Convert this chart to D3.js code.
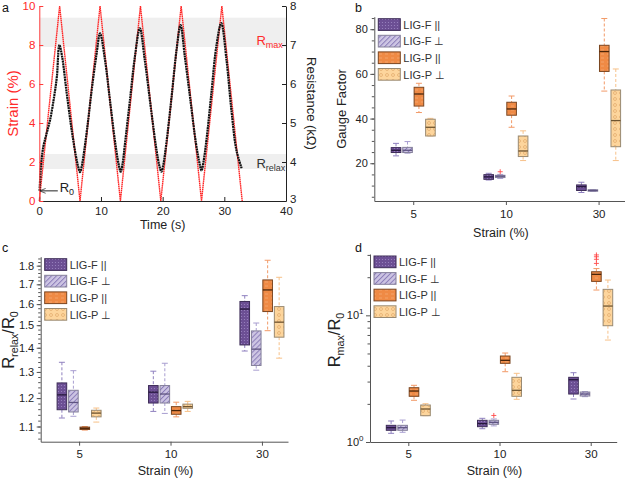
<!DOCTYPE html>
<html><head><meta charset="utf-8">
<script src="https://cdn.jsdelivr.net/npm/d3@7"></script>
<style>
body{margin:0;background:#fff}
svg{display:block}
text{font-family:"Liberation Sans",Arial,Helvetica,sans-serif}
</style>
</head><body>
<svg id="fig" width="625" height="478"></svg>
<script>
// ---------- Panel a data ----------
const strainTime  = [0, 3.3, 6.6, 9.85, 13.15, 16.4, 19.7, 23.0, 26.3, 29.6, 32.9];
const strainValue = [0, 10, 0, 10, 0, 10, 0, 10, 0, 10, 0];
const resTime  = [0.05,0.3,0.65,1.2,1.75,2.4,2.85,3.25,3.7,4.45,5.25,5.95,6.3,6.6,6.9,7.15,7.8,8.5,9.3,9.85,10.65,11.45,12.25,12.85,13.2,13.5,13.9,14.7,15.5,16.3,17.1,18.2,19.0,19.5,19.8,20.1,20.6,21.45,22.25,22.9,23.6,24.5,25.4,26.0,26.3,26.6,27.1,27.9,28.7,29.5,30.35,31.15,31.95,32.8];
const resValue = [3.26,3.95,4.39,4.74,5.08,5.67,6.19,7.0,6.70,5.76,4.82,4.14,3.88,3.74,3.90,4.14,4.91,5.85,6.79,7.30,6.62,5.59,4.56,3.95,3.75,3.95,4.48,5.59,6.70,7.43,6.62,5.25,4.31,3.88,3.75,3.92,4.48,5.67,6.87,7.51,6.70,5.59,4.48,3.95,3.78,3.98,4.56,5.76,6.96,7.56,6.62,5.33,4.31,3.84];
const timeTicks = [0, 10, 20, 30, 40];
const strainTicks = [0, 2, 4, 6, 8, 10];
const resTicks = [3, 4, 5, 6, 7, 8];
const rmaxBand = [7.9, 9.4];     // in strain units
const rrelaxBand = [1.64, 2.41];
const r0Value = 3.26;

// ---------- Box panels data: [lowWhisker, q1, median, q3, highWhisker] per strain ----------
const strainCats = ["5", "10", "30"];
const seriesNames = ["LIG-F ||", "LIG-F \u22A5", "LIG-P ||", "LIG-P \u22A5"];

const gfLigFPar  = [[23.3,24.8,25.8,27.0,28.9],[12.5,12.8,13.9,14.9,15.5],[6.9,7.8,9.5,10.3,11.5]];
const gfLigFPerp = [[24.5,24.8,25.8,27.1,29.7],[13.2,13.6,14.2,14.6,15.0],[7.4,7.5,7.8,8.1,8.2]];
const gfLigPPar  = [[42.7,45.6,51.0,54.0,55.8],[36.1,41.5,44.3,47.3,50.1],[52.3,61.1,70.0,72.8,84.8]];
const gfLigPPerp = [[32.2,32.2,36.1,39.7,40.1],[21.2,23.0,25.5,32.2,34.5],[21.2,27.4,39.1,52.8,62.2]];
const gfOutSeries = [1], gfOutCat = [1], gfOutValue = [16.2];
const gfTicks = [20, 40, 60, 80];

const rrLigFPar  = [[1.129,1.158,1.212,1.257,1.339],[1.152,1.182,1.222,1.247,1.303],[1.386,1.412,1.576,1.613,1.642]];
const rrLigFPerp = [[1.135,1.150,1.184,1.229,1.305],[1.145,1.182,1.215,1.247,1.335],[1.307,1.326,1.394,1.474,1.510]];
const rrLigPPar  = [[1.088,1.090,1.094,1.098,1.100],[1.133,1.142,1.155,1.169,1.185],[1.475,1.564,1.671,1.723,1.830]];
const rrLigPPerp = [[1.115,1.133,1.146,1.156,1.164],[1.152,1.163,1.169,1.178,1.188],[1.356,1.446,1.514,1.588,1.737]];
const rrOutSeries = [], rrOutCat = [], rrOutValue = [];
const rrTicks = [1.1, 1.2, 1.3, 1.4, 1.5, 1.6, 1.7, 1.8];

const rmLigFPar  = [[1.171,1.237,1.297,1.354,1.465],[1.273,1.321,1.395,1.483,1.538],[2.185,2.392,3.103,3.241,3.524]];
const rmLigFPerp = [[1.193,1.237,1.297,1.354,1.49],[1.34,1.379,1.43,1.483,1.52],[2.28,2.307,2.392,2.481,2.50]];
const rmLigPPar  = [[2.134,2.295,2.526,2.683,2.803],[3.589,4.18,4.414,4.773,5.04],[15.84,18.54,21.07,22.09,23.4]];
const rmLigPPerp = [[1.613,1.613,1.822,1.959,2.006],[2.173,2.295,2.559,3.241,3.485],[6.38,8.28,11.84,16.04,19.0]];
const rmOutSeries = [1,2,2,2,2], rmOutCat = [1,2,2,2,2], rmOutValue = [1.62,25.7,27.7,29.0,30.0];
const rmTicks = [1, 10];

// ---------- styles ----------
const svg = d3.select("#fig");
const defs = svg.append("defs");
const fillCol = ["#6c4f94", "#cdc5e3", "#ef8a45", "#fdd59c"];
const strokeCol = ["#3e2d58", "#85809a", "#7a4520", "#9a8a72"];
const medCol = ["#24163a", "#5e5480", "#4a2408", "#6e5430"];
const whiskCol = ["#8f80bf", "#a89ed0", "#f29a68", "#f7c189"];

(function(){
  let p = defs.append("pattern").attr("id","pat0").attr("patternUnits","userSpaceOnUse").attr("width",3).attr("height",3);
  p.append("rect").attr("width",3).attr("height",3).attr("fill",fillCol[0]);
  p.append("circle").attr("cx",1.5).attr("cy",1.5).attr("r",0.6).attr("fill","#9c86c2");
  p = defs.append("pattern").attr("id","pat1").attr("patternUnits","userSpaceOnUse").attr("width",3.5).attr("height",3.5).attr("patternTransform","rotate(45)");
  p.append("rect").attr("width",3.5).attr("height",3.5).attr("fill",fillCol[1]);
  p.append("line").attr("x1",0.5).attr("y1",0).attr("x2",0.5).attr("y2",3.5).attr("stroke","#8a7cb8").attr("stroke-width",1);
  p = defs.append("pattern").attr("id","pat2").attr("patternUnits","userSpaceOnUse").attr("width",6).attr("height",4);
  p.append("rect").attr("width",6).attr("height",4).attr("fill",fillCol[2]);
  p.append("line").attr("x1",1).attr("y1",2).attr("x2",4).attr("y2",2).attr("stroke","#f5aa74").attr("stroke-width",0.8);
  p = defs.append("pattern").attr("id","pat3").attr("patternUnits","userSpaceOnUse").attr("width",6).attr("height",6);
  p.append("rect").attr("width",6).attr("height",6).attr("fill",fillCol[3]);
  p.append("circle").attr("cx",3).attr("cy",3).attr("r",1.5).attr("fill","none").attr("stroke","#dba060").attr("stroke-width",0.6);
  defs.append("marker").attr("id","arrow").attr("viewBox","0 0 10 10").attr("refX",9).attr("refY",5)
    .attr("markerWidth",6).attr("markerHeight",6).attr("orient","auto-start-reverse")
    .append("path").attr("d","M0,1 L10,5 L0,9").attr("fill","none").attr("stroke","#222").attr("stroke-width",1.2);
})();

function panelLetter(x, y, t){
  svg.append("text").attr("x",x).attr("y",y).attr("font-size",12.5).attr("fill","#111").text(t);
}

// ---------- Panel a ----------
(function(){
  const L = 39.3, R = 286, T = 6, B = 201;
  const g = svg.append("g");
  const x = d3.scaleLinear().domain([0, 40]).range([L, R]);
  const yS = d3.scaleLinear().domain([0, 10]).range([B, T]);
  const yR = d3.scaleLinear().domain([3, 8]).range([B, T]);

  [rmaxBand, rrelaxBand].forEach(b => {
    g.append("rect").attr("x", L).attr("width", R - L)
      .attr("y", yS(b[1])).attr("height", yS(b[0]) - yS(b[1])).attr("fill", "#efefef");
  });

  const sLine = d3.line().x((d,i)=>x(strainTime[i])).y((d,i)=>yS(strainValue[i]));
  g.append("path").attr("d", sLine(strainTime)).attr("fill","none").attr("stroke","#ff2424").attr("stroke-width",1.4)
    .attr("stroke-dasharray","1.6,0.5");
  const rLine = d3.line().x((d,i)=>x(resTime[i])).y((d,i)=>yR(resValue[i])).curve(d3.curveCatmullRom.alpha(0.5));
  g.append("path").attr("d", rLine(resTime)).attr("fill","none").attr("stroke","#111").attr("stroke-width",2.2)
    .attr("stroke-dasharray","2,0.6");

  const ax = g.append("g").attr("transform",`translate(0,${B})`)
    .call(d3.axisBottom(x).tickValues(timeTicks).tickSizeInner(-4).tickSizeOuter(0).tickPadding(5.5));
  ax.select(".domain").attr("stroke","#222");
  ax.selectAll(".tick line").attr("stroke","#222");
  ax.selectAll("text").attr("font-size",11.5).attr("fill","#222");

  const al = g.append("g").attr("transform",`translate(${L},0)`)
    .call(d3.axisLeft(yS).tickValues(strainTicks).tickSizeInner(-4).tickSizeOuter(0).tickPadding(4));
  al.select(".domain").attr("stroke","#ff3b3b");
  al.selectAll(".tick line").attr("stroke","#ff3b3b");
  al.selectAll("text").attr("font-size",11.5).attr("fill","#ff2a2a");

  const ar = g.append("g").attr("transform",`translate(${R},0)`)
    .call(d3.axisRight(yR).tickValues(resTicks).tickFormat(d3.format("d")).tickSizeInner(-4).tickSizeOuter(0).tickPadding(4));
  ar.select(".domain").attr("stroke","#222");
  ar.selectAll(".tick line").attr("stroke","#222");
  ar.selectAll("text").attr("font-size",11.5).attr("fill","#222");
  ar.selectAll(".tick text").filter(v => v === 3).attr("dy","0.15em");

  g.append("text").attr("transform",`translate(18,${(T+B)/2}) rotate(-90)`).attr("text-anchor","middle")
    .attr("font-size",15).attr("fill","#ff2a2a").text("Strain (%)");
  g.append("text").attr("transform",`translate(307,${(T+B)/2}) rotate(90)`).attr("text-anchor","middle")
    .attr("font-size",13).attr("fill","#222").text("Resistance (k\u03A9)");
  g.append("text").attr("x",(L+R)/2).attr("y",228.5).attr("text-anchor","middle")
    .attr("font-size",12.5).attr("fill","#222").text("Time (s)");

  const t1 = g.append("text").attr("x", x(35.2)).attr("y", yS(8.0)).attr("font-size",13).attr("fill","#ff2a2a");
  t1.append("tspan").text("R");
  t1.append("tspan").attr("font-size",9).attr("dy",3).text("max");
  const t2 = g.append("text").attr("x", x(35.2)).attr("y", yS(1.7)).attr("font-size",13).attr("fill","#333");
  t2.append("tspan").text("R");
  t2.append("tspan").attr("font-size",9).attr("dy",3).text("relax");

  g.append("line").attr("x1", x(3.0)).attr("x2", x(0.15)).attr("y1", yR(r0Value)).attr("y2", yR(r0Value))
    .attr("stroke","#222").attr("stroke-width",1).attr("marker-end","url(#arrow)");
  const t3 = g.append("text").attr("x", x(3.3)).attr("y", yR(r0Value)+1).attr("font-size",13).attr("fill","#222");
  t3.append("tspan").text("R");
  t3.append("tspan").attr("font-size",9).attr("dy",3).text("0");
})();
panelLetter(2, 12, "a");

// ---------- Box panel ----------
function boxPanel(opt){
  const g = svg.append("g");
  const x = d3.scaleLinear().domain([-0.42, 2.285]).range([opt.L, opt.R]);
  const y = opt.y;
  const offs = [-17.2, -5.7, 5.7, 17.2];
  const bw = 9.6, capW = 6;

  opt.series.forEach((arr, s) => {
    arr.forEach((d, c) => {
      const cx = x(c) + offs[s];
      const gg = g.append("g");
      gg.append("line").attr("x1",cx).attr("x2",cx).attr("y1",y(d[4])).attr("y2",y(d[3]))
        .attr("stroke",whiskCol[s]).attr("stroke-width",1).attr("stroke-dasharray","3,2");
      gg.append("line").attr("x1",cx).attr("x2",cx).attr("y1",y(d[1])).attr("y2",y(d[0]))
        .attr("stroke",whiskCol[s]).attr("stroke-width",1).attr("stroke-dasharray","3,2");
      [d[0], d[4]].forEach(v => gg.append("line").attr("x1",cx-capW/2).attr("x2",cx+capW/2)
        .attr("y1",y(v)).attr("y2",y(v)).attr("stroke",whiskCol[s]).attr("stroke-width",1));
      gg.append("rect").attr("x",cx-bw/2).attr("width",bw).attr("y",y(d[3]))
        .attr("height",Math.max(1.2, y(d[1]) - y(d[3])))
        .attr("fill",`url(#pat${s})`).attr("stroke",strokeCol[s]).attr("stroke-width",1);
      gg.append("line").attr("x1",cx-bw/2).attr("x2",cx+bw/2).attr("y1",y(d[2])).attr("y2",y(d[2]))
        .attr("stroke",medCol[s]).attr("stroke-width",1.3);
    });
  });
  opt.outS.forEach((s, i) => {
    const cx = x(opt.outC[i]) + offs[s], cy = y(opt.outV[i]);
    g.append("path").attr("d",`M${cx-2.5},${cy}H${cx+2.5}M${cx},${cy-2.5}V${cy+2.5}`)
      .attr("stroke","#ff4a4a").attr("stroke-width",0.9);
  });

  const ax = g.append("g").attr("transform",`translate(0,${opt.B})`)
    .call(d3.axisBottom(x).tickValues([0,1,2]).tickFormat(i=>strainCats[i]).tickSizeInner(4).tickSizeOuter(0).tickPadding(opt.xPad));
  ax.select(".domain").attr("stroke","#555");
  ax.selectAll(".tick line").attr("stroke","#555");
  ax.selectAll("text").attr("font-size",11.5).attr("fill","#222");

  const minor = g.append("g").attr("transform",`translate(${opt.L},0)`)
    .call(d3.axisLeft(y).tickValues(opt.minorTicks).tickFormat("").tickSizeInner(2.5).tickSizeOuter(0));
  minor.select(".domain").remove();
  minor.selectAll(".tick line").attr("stroke","#555");
  const ay = g.append("g").attr("transform",`translate(${opt.L},0)`)
    .call(d3.axisLeft(y).tickValues(opt.ticks).tickFormat(opt.fmt).tickSizeInner(4).tickSizeOuter(0).tickPadding(2.5));
  ay.select(".domain").attr("stroke","#555");
  ay.selectAll(".tick line").attr("stroke","#555");
  ay.selectAll("text").attr("font-size",11).attr("fill","#222");
  if (opt.sup) {
    ay.selectAll(".tick text").text(null).each(function(v){
      const t = d3.select(this);
      t.append("tspan").text("10");
      t.append("tspan").attr("font-size",8).attr("dy",-5).text(Math.round(Math.log10(v)));
    });
  }

  seriesNames.forEach((n, i) => {
    const ly = opt.T + 2 + i * 16.6;
    g.append("rect").attr("x",opt.L+4).attr("y",ly).attr("width",22).attr("height",11.7)
      .attr("fill",`url(#pat${i})`).attr("stroke",strokeCol[i]).attr("stroke-width",1);
    g.append("text").attr("x",opt.L+29).attr("y",ly+10).attr("font-size",11).attr("fill","#333").text(n);
  });

  g.append("text").attr("x", x(1) - 5).attr("y", opt.xTitleY).attr("text-anchor","middle")
    .attr("font-size",12.5).attr("fill","#222").text("Strain (%)");
  const yt = g.append("text").attr("transform",`translate(${opt.yTitleX},${opt.yTitleY}) rotate(-90)`)
    .attr("text-anchor","middle").attr("font-size",opt.yTitleSize).attr("fill","#222");
  opt.yTitle.forEach(p => {
    const ts = yt.append("tspan").text(p[0]);
    if (p[1] === "sub") ts.attr("font-size", opt.yTitleSize*0.65).attr("dy", 4);
    else if (p[1] === "up") ts.attr("dy", -4);
  });
}

boxPanel({
  L: 374.3, R: 625, T: 16.7, B: 201,
  y: d3.scaleLinear().domain([3.1, 85.6]).range([201, 16.7]),
  series: [gfLigFPar, gfLigFPerp, gfLigPPar, gfLigPPerp],
  outS: gfOutSeries, outC: gfOutCat, outV: gfOutValue,
  ticks: gfTicks, minorTicks: d3.range(5, 86, 5), fmt: d3.format("d"),
  xPad: 5, xTitleY: 237,
  yTitle: [["Gauge Factor"]], yTitleX: 346, yTitleY: 109, yTitleSize: 13
});
panelLetter(355, 12, "b");

boxPanel({
  L: 40.7, R: 288, T: 256.7, B: 441.7,
  y: d3.scaleLog().domain([1.05, 1.85]).range([441.7, 256.7]),
  series: [rrLigFPar, rrLigFPerp, rrLigPPar, rrLigPPerp],
  outS: rrOutSeries, outC: rrOutCat, outV: rrOutValue,
  ticks: rrTicks, minorTicks: d3.range(1.06, 1.85, 0.02), fmt: d3.format(".1f"),
  xPad: 4, xTitleY: 475,
  yTitle: [["R"],["relax","sub"],["/R","up"],["0","sub"]], yTitleX: 14, yTitleY: 340, yTitleSize: 16.5
});
panelLetter(2, 252, "c");

boxPanel({
  L: 370, R: 616.7, T: 254, B: 442,
  y: d3.scaleLog().domain([1, 30.5]).range([442, 254]),
  series: [rmLigFPar, rmLigFPerp, rmLigPPar, rmLigPPerp],
  outS: rmOutSeries, outC: rmOutCat, outV: rmOutValue,
  ticks: rmTicks, minorTicks: [2,3,4,5,6,7,8,9,20,30], fmt: d3.format("d"), sup: true,
  xPad: 4, xTitleY: 475,
  yTitle: [["R"],["max","sub"],["/R","up"],["0","sub"]], yTitleX: 340, yTitleY: 340, yTitleSize: 16.5
});
panelLetter(355, 252, "d");
</script>
</body></html>
